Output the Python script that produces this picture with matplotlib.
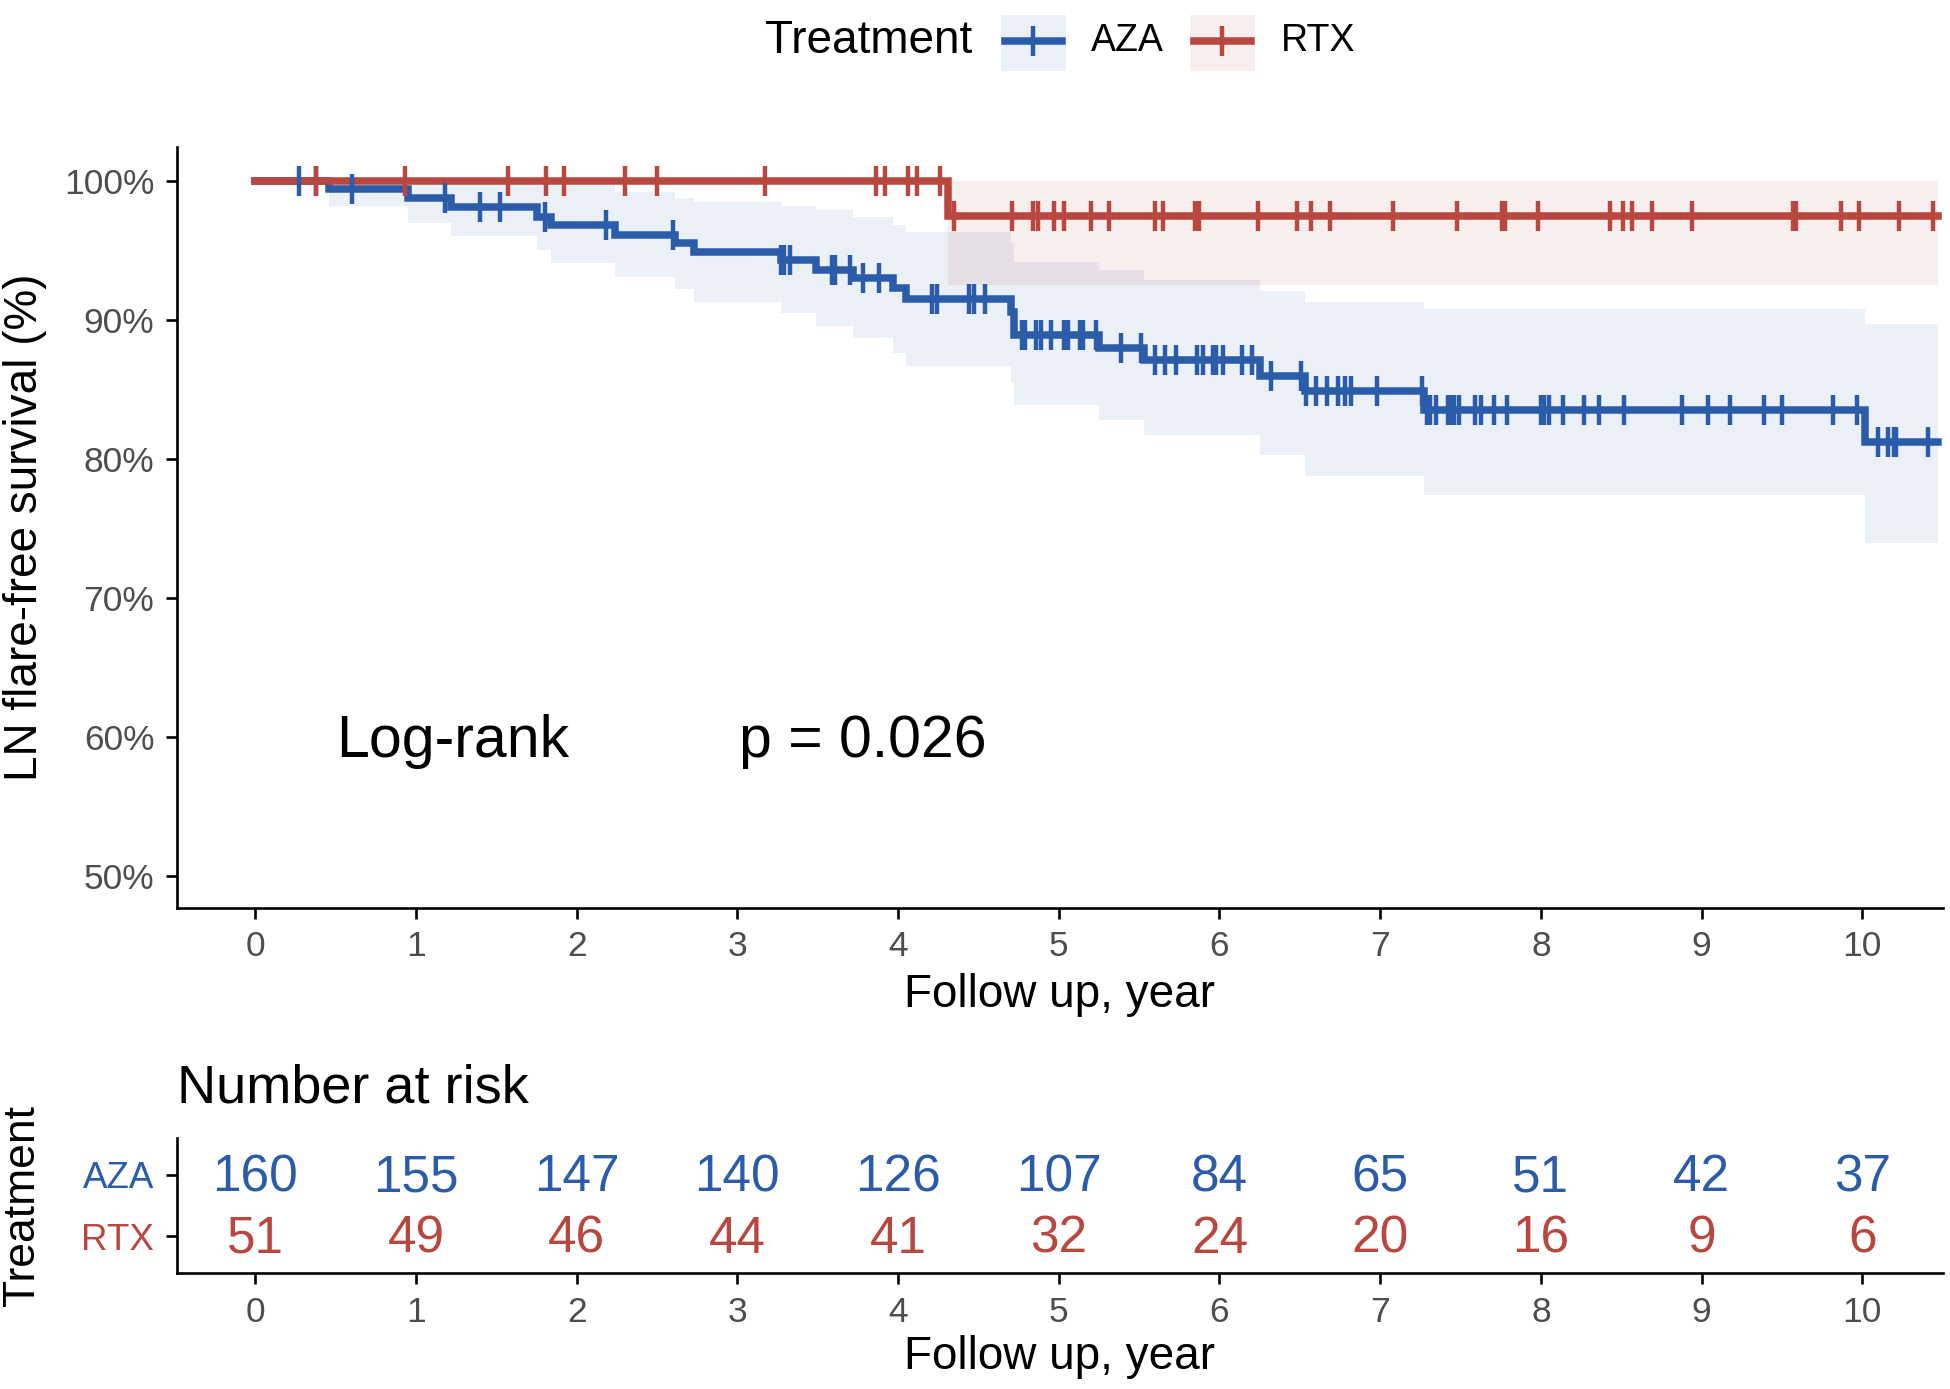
import numpy as np
import matplotlib
matplotlib.use('Agg')
import matplotlib.pyplot as plt
from matplotlib.ticker import PercentFormatter
from matplotlib.patches import Rectangle
from matplotlib.lines import Line2D

plt.rcParams['font.family'] = ['Liberation Sans', 'DejaVu Sans']

# ---------------- data ----------------
groups = ['AZA', 'RTX']
colors = ['#2B5CA9', '#B9463F']

aza_time = [0, 0.46, 0.95, 1.22, 1.75, 1.84, 2.24, 2.61, 2.73, 3.27, 3.49, 3.72,
            3.97, 4.05, 4.70, 4.72, 5.25, 5.53, 6.25, 6.53, 7.27, 10.02]
aza_surv = [1.0, 0.994, 0.988, 0.981, 0.974, 0.968, 0.961, 0.955, 0.949, 0.943, 0.936, 0.930,
            0.923, 0.915, 0.906, 0.889, 0.880, 0.871, 0.860, 0.849, 0.835, 0.812]
aza_lower = [1.0, 0.982, 0.970, 0.960, 0.950, 0.941, 0.931, 0.922, 0.913, 0.905, 0.896, 0.887,
             0.876, 0.867, 0.855, 0.839, 0.828, 0.817, 0.803, 0.788, 0.774, 0.740]
aza_upper = [1.0, 1.0, 1.0, 1.0, 1.0, 0.996, 0.992, 0.988, 0.985, 0.982, 0.979, 0.974,
             0.968, 0.963, 0.955, 0.942, 0.936, 0.929, 0.921, 0.913, 0.908, 0.897]
aza_censor = [0.27, 0.38, 0.60, 1.18, 1.40, 1.52, 1.80, 2.18, 2.60, 3.27, 3.29, 3.33,
              3.59, 3.61, 3.70, 3.78, 3.88, 4.21, 4.24, 4.44, 4.47, 4.54, 4.77, 4.79,
              4.86, 4.89, 4.95, 5.03, 5.06, 5.13, 5.15, 5.23, 5.39, 5.51, 5.60, 5.66,
              5.73, 5.86, 5.90, 5.96, 5.98, 6.02, 6.14, 6.20, 6.32, 6.51, 6.54, 6.60,
              6.67, 6.74, 6.78, 6.82, 6.98, 7.26, 7.29, 7.31, 7.35, 7.42, 7.44, 7.46,
              7.49, 7.59, 7.63, 7.71, 7.79, 8.00, 8.02, 8.05, 8.14, 8.27, 8.36, 8.52,
              8.88, 9.04, 9.18, 9.39, 9.50, 9.82, 9.97, 10.10, 10.16, 10.20, 10.21, 10.41]
aza_end = 10.47

rtx_time = [0, 4.31]
rtx_surv = [1.0, 0.975]
rtx_lower = [1.0, 0.925]
rtx_upper = [1.0, 1.0]
rtx_censor = [0.38, 0.93, 1.57, 1.81, 1.92, 2.30, 2.50, 3.17, 3.86, 3.92, 4.06, 4.12,
              4.26, 4.35, 4.71, 4.84, 4.87, 4.97, 5.03, 5.20, 5.31, 5.60, 5.65, 5.85,
              5.87, 6.24, 6.48, 6.57, 6.69, 7.08, 7.48, 7.76, 7.78, 7.98, 8.43, 8.51,
              8.57, 8.69, 8.94, 9.57, 9.59, 9.87, 9.98, 10.23, 10.44]
rtx_end = 10.47

risk_times = list(range(11))
aza_risk = [160, 155, 147, 140, 126, 107, 84, 65, 51, 42, 37]
rtx_risk = [51, 49, 46, 44, 41, 32, 24, 20, 16, 9, 6]

y_ticks = [0.5, 0.6, 0.7, 0.8, 0.9, 1.0]
x_ticks = list(range(11))

# ---------------- layout helpers (reference pixel grid 1568 x 1117) ----------------
W, H = 1568.0, 1117.0
def fx(x):
    return x / W
def fy(y):
    return 1 - y / H

fig = plt.figure(figsize=(19.5, 13.89), dpi=100)

tick_col = '#4D4D4D'
spine_w = 1.9
lw_curve = 5.4
ms_cens = 22
mew_cens = 3.2

ax = fig.add_axes([fx(142), fy(730), fx(1562) - fx(142), fy(118) - fy(730)])
axr = fig.add_axes([fx(142), fy(1024), fx(1562) - fx(142), fy(915) - fy(1024)])

series = [
    (aza_time, aza_surv, aza_lower, aza_upper, aza_censor, aza_end),
    (rtx_time, rtx_surv, rtx_lower, rtx_upper, rtx_censor, rtx_end),
]

for (t, s, lo, up, cens, end), col in zip(series, colors):
    tt = np.array(list(t) + [end])
    ss = np.array(list(s) + [s[-1]])
    ll = np.array(list(lo) + [lo[-1]])
    uu = np.array(list(up) + [up[-1]])
    ax.fill_between(tt, ll, uu, step='post', color=col, alpha=0.09, linewidth=0, zorder=1)
    ax.step(tt, ss, where='post', color=col, linewidth=lw_curve, zorder=3,
            solid_joinstyle='miter')
    c = np.array(cens)
    idx = np.searchsorted(np.array(t), c, side='right') - 1
    cy = np.array(s)[idx]
    ax.plot(c, cy, linestyle='none', marker='|', markersize=ms_cens,
            markeredgewidth=mew_cens, color=col, zorder=4)

ax.set_xlim(-0.49, 10.5)
ax.set_ylim(0.4775, 1.0245)
ax.set_xticks(x_ticks)
ax.set_yticks(y_ticks)
ax.yaxis.set_major_formatter(PercentFormatter(1.0, decimals=0))
for sp in ['top', 'right']:
    ax.spines[sp].set_visible(False)
for sp in ['left', 'bottom']:
    ax.spines[sp].set_linewidth(spine_w)
ax.tick_params(axis='both', labelsize=25.5, labelcolor=tick_col, width=spine_w,
               length=8, color='black', pad=8)
ax.set_xlabel('Follow up, year', fontsize=33)
ax.xaxis.set_label_coords(0.5, -(800 - 730) / (730 - 118))
ax.xaxis.label.set_va('center')
ax.set_ylabel('LN flare-free survival (%)', fontsize=33)
ax.yaxis.set_label_coords((20 - 142) / 1420.0, 0.5)
ax.yaxis.label.set_va('center')

ax.text(0.50, 0.597, 'Log-rank', fontsize=42.5, ha='left', va='center')
ax.text(3.01, 0.597, 'p = 0.026', fontsize=42.5, ha='left', va='center')

# ---------------- risk table ----------------
row_y = [2, 1]
for vals, col, yy in zip([aza_risk, rtx_risk], colors, row_y):
    for tx, v in zip(risk_times, vals):
        axr.text(tx, yy - 0.05, str(v), color=col, fontsize=37, ha='center', va='center')

axr.set_xlim(-0.49, 10.5)
axr.set_ylim(0.4, 2.6)
axr.set_xticks(x_ticks)
axr.set_yticks(row_y)
axr.set_yticklabels(groups)
for lab, col in zip(axr.get_yticklabels(), colors):
    lab.set_color(col)
for sp in ['top', 'right']:
    axr.spines[sp].set_visible(False)
for sp in ['left', 'bottom']:
    axr.spines[sp].set_linewidth(spine_w)
axr.tick_params(axis='x', labelsize=25.5, labelcolor=tick_col, width=spine_w, length=8, pad=8)
axr.tick_params(axis='y', labelsize=26.5, width=spine_w, length=8, pad=8)
axr.set_xlabel('Follow up, year', fontsize=33)
axr.xaxis.set_label_coords(0.5, -(1091 - 1024) / (1024 - 915))
axr.xaxis.label.set_va('center')
axr.set_ylabel('Treatment', fontsize=32)
axr.yaxis.set_label_coords((18 - 142) / 1420.0, 0.5)
axr.yaxis.label.set_va('center')
fig.text(fx(142), fy(875), 'Number at risk', fontsize=39, ha='left', va='center')

# ---------------- legend ----------------
fig.text(fx(615), fy(33), 'Treatment', fontsize=33, ha='left', va='center')
key_x = [805, 957]
lab_x = [877, 1030]
for g, col, kx, lx in zip(groups, colors, key_x, lab_x):
    fig.patches.append(Rectangle((fx(kx), fy(57)), fx(52), fy(12) - fy(57),
                                 transform=fig.transFigure, facecolor=col, alpha=0.09,
                                 edgecolor='none'))
    fig.lines.append(Line2D([fx(kx + 3), fx(kx + 49)], [fy(33), fy(33)],
                            transform=fig.transFigure, color=col, linewidth=lw_curve))
    fig.lines.append(Line2D([fx(kx + 26)], [fy(33)], transform=fig.transFigure,
                            color=col, marker='|', markersize=ms_cens,
                            markeredgewidth=mew_cens, linestyle='none'))
    fig.text(fx(lx), fy(33), g, fontsize=27, ha='left', va='center')

fig.savefig('out.png', dpi=100)
